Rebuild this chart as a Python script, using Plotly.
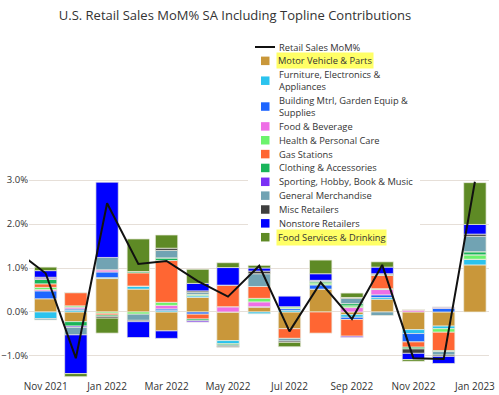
import plotly.graph_objects as go

months = ["2021-11-01", "2021-12-01", "2022-01-01", "2022-02-01", "2022-03-01", "2022-04-01",
          "2022-05-01", "2022-06-01", "2022-07-01", "2022-08-01", "2022-09-01", "2022-10-01",
          "2022-11-01", "2022-12-01", "2023-01-01"]

line_months = ["2021-10-01"] + months
retail_sales = [1.43, 0.88, -1.05, 2.47, 1.09, 1.16, 0.70, 0.35, 1.05, -0.44, 0.67, -0.16,
                1.07, -1.05, -1.07, 2.96]

motor = [0.30, -0.22, 0.76, 0.52, -0.43, 0.33, -0.65, 0.11, -0.38, 0.52, -0.06, 0.29, -0.40, -0.32, 1.07]
furniture = [-0.15, 0.04, 0.02, 0.07, 0.03, 0.04, -0.07, -0.04, 0.04, 0.00, -0.06, 0.04, -0.09, -0.06, 0.13]
building = [0.18, 0.03, 0.13, 0.00, 0.04, -0.05, 0.00, 0.01, 0.04, 0.10, -0.05, 0.06, -0.19, 0.08, 0.00]
food_bev = [0.03, 0.04, 0.05, 0.00, 0.08, 0.00, 0.12, 0.11, 0.00, 0.00, 0.10, 0.12, 0.05, 0.00, 0.00]
health = [0.05, 0.03, -0.03, -0.05, 0.07, 0.03, 0.00, 0.08, 0.04, 0.04, 0.04, 0.02, 0.00, -0.08, 0.10]
gas = [0.08, 0.30, -0.04, 0.30, 0.95, -0.11, 0.49, 0.27, -0.22, -0.48, -0.38, 0.30, -0.12, -0.42, 0.00]
clothing = [0.10, -0.10, -0.03, 0.03, 0.06, -0.04, -0.03, 0.00, 0.00, 0.03, 0.05, 0.02, -0.04, -0.02, 0.07]
sporting = [0.03, -0.03, 0.00, 0.00, 0.00, -0.03, 0.00, 0.00, 0.00, 0.00, -0.03, 0.00, 0.00, 0.03, 0.00]
general = [-0.03, -0.17, 0.28, -0.14, 0.17, 0.05, -0.03, 0.29, -0.06, 0.03, 0.12, -0.08, 0.00, -0.08, 0.35]
misc = [0.02, 0.00, -0.04, -0.03, 0.05, 0.03, -0.02, 0.06, -0.03, 0.00, 0.02, 0.02, -0.10, -0.03, 0.05]
nonstore = [0.15, -0.88, 1.71, -0.36, -0.17, 0.17, 0.40, 0.07, 0.24, 0.15, 0.00, 0.15, -0.14, -0.16, 0.22]
food_services = [0.08, -0.07, -0.34, 0.74, 0.30, 0.32, 0.11, 0.06, -0.10, 0.31, 0.10, 0.12, -0.04, 0.00, 0.95]

categories = ["Motor Vehicle & Parts", "Furniture, Electronics &<br>Appliances",
              "Building Mtrl, Garden Equip &<br>Supplies", "Food & Beverage",
              "Health & Personal Care", "Gas Stations", "Clothing & Accessories",
              "Sporting, Hobby, Book & Music", "General Merchandise", "Misc Retailers",
              "Nonstore Retailers", "Food Services & Drinking"]
series = [motor, furniture, building, food_bev, health, gas, clothing, sporting, general,
          misc, nonstore, food_services]
colors = ["#C9973A", "#2BC3EE", "#1E66FF", "#EE6FE6", "#6CF36C", "#FF6633", "#19B55A",
          "#7A30F5", "#71A3B3", "#3F3F3F", "#0000FF", "#5E8A25"]
highlighted = {"Motor Vehicle & Parts", "Food Services & Drinking"}

W, H = 499, 395
L, R, T, B = 29, 489, 176, 379
FONT = "Open Sans"
TXT = "#333333"
LEG_SIZE = 9.3


def px(x):
    return (x - L) / (R - L)


def py(y):
    return (B - y) / (B - T)


fig = go.Figure()
for name, vals, col in zip(categories, series, colors):
    fig.add_trace(go.Bar(x=months, y=vals, name=name.replace("<br>", " "), marker_color=col,
                         marker_line=dict(color="rgba(235,235,225,0.9)", width=0.8),
                         width=22.2 * 86400000, showlegend=False))
fig.add_trace(go.Scatter(x=line_months, y=retail_sales, mode="lines", name="Retail Sales MoM%",
                         line=dict(color="#111111", width=2), showlegend=False))

shapes = []
annotations = []
# legend background
shapes.append(dict(type="rect", xref="paper", yref="paper", x0=px(248), x1=px(420),
                   y0=py(248), y1=py(38), fillcolor="white", line_width=0, layer="above"))
# line legend item
y = 47.0
shapes.append(dict(type="line", xref="paper", yref="paper", x0=px(255), x1=px(275),
                   y0=py(y), y1=py(y), line=dict(color="#111111", width=2), layer="above"))
annotations.append(dict(text="Retail Sales MoM%", x=px(278), y=py(y), xref="paper", yref="paper",
                        xanchor="left", yanchor="middle", showarrow=False, borderpad=0,
                        font=dict(family=FONT, size=LEG_SIZE, color=TXT)))
y += 13.85
for name, col in zip(categories, colors):
    n = len(name.split("<br>"))
    yc = y + (n - 1) * 6
    shapes.append(dict(type="rect", xref="paper", yref="paper", x0=px(261), x1=px(269.5),
                       y0=py(yc + 4.25), y1=py(yc - 4.25), fillcolor=col, line_width=0,
                       layer="above"))
    hl = name in highlighted
    annotations.append(dict(text=name, x=px(276 if hl else 278), y=py(yc), xref="paper",
                            yref="paper", xanchor="left", yanchor="middle", align="left",
                            showarrow=False, borderpad=1 if hl else 0,
                            bgcolor="#FFFF66" if hl else "rgba(0,0,0,0)",
                            font=dict(family=FONT, size=LEG_SIZE, color=TXT)))
    y += 13.85 + (n - 1) * 12

fig.update_layout(
    width=W, height=H,
    margin=dict(l=L, r=W - R, t=T, b=H - B, pad=0, autoexpand=False),
    barmode="relative",
    plot_bgcolor="white", paper_bgcolor="white",
    font=dict(family=FONT, size=10, color=TXT),
    title=dict(text="U.S. Retail Sales MoM% SA Including Topline Contributions",
               x=235 / W, xanchor="center", y=1 - 15 / H, yanchor="middle",
               font=dict(family=FONT, size=13, color=TXT)),
    xaxis=dict(type="date", range=["2021-10-15 12:00", "2023-01-15"], tick0="2021-11-01",
               dtick="M2", tickformat="%b %Y", showgrid=False, zeroline=False, automargin=False,
               showline=False, ticks="", tickfont=dict(family=FONT, size=10, color=TXT)),
    yaxis=dict(range=[-1.523, 3.091], dtick=1, tick0=0, tickformat=".1f", ticksuffix="%",
               showgrid=True, gridcolor="#E6DFD8", gridwidth=1.2, zeroline=False, automargin=False,
               showline=False, ticks="", tickfont=dict(family=FONT, size=9.5, color=TXT)),
    shapes=shapes, annotations=annotations,
)

fig.write_html("out.html", config={"displayModeBar": False},
               post_script="document.body.style.margin='0';document.body.style.overflow='hidden';")
